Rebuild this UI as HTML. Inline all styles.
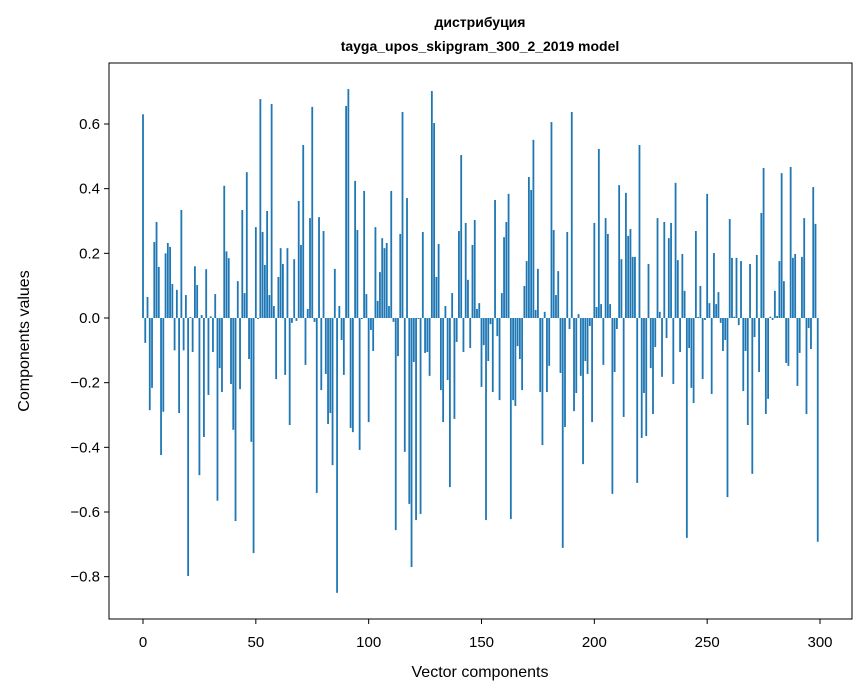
<!DOCTYPE html>
<html><head><meta charset="utf-8"><style>
html,body{margin:0;padding:0;background:#fff;}
svg{display:block;font-family:"Liberation Sans","DejaVu Sans",sans-serif;}
</style></head><body>
<svg id="chart" width="867" height="696" viewBox="0 0 867 696" xmlns="http://www.w3.org/2000/svg">
<rect x="0" y="0" width="867" height="696" fill="#fff"/>
<text x="480" y="27" text-anchor="middle" font-size="14" font-weight="bold">дистрибуция</text>
<text x="480" y="51" text-anchor="middle" font-size="14" font-weight="bold">tayga_upos_skipgram_300_2_2019 model</text>
<g id="bars"></g>
<g id="axes"></g>
<text x="480" y="677" text-anchor="middle" font-size="16">Vector components</text>
<text transform="translate(29,341) rotate(-90)" text-anchor="middle" font-size="16">Components values</text>
</svg>
<script>
const values = [
0.63,-0.077,0.065,-0.285,-0.216,0.235,0.297,0.158,-0.424,-0.29,
0.2,0.232,0.22,0.105,-0.1,0.087,-0.294,0.334,-0.1,0.071,
-0.798,0.003,-0.105,0.16,0.102,-0.486,0.009,-0.368,0.151,-0.238,
0.005,-0.105,0.074,-0.565,-0.155,-0.229,0.409,0.206,0.185,-0.204,
-0.346,-0.628,0.114,-0.22,0.334,0.077,0.451,-0.127,-0.383,-0.727,
0.281,-0.003,0.677,0.266,0.164,0.331,0.071,0.662,0.037,-0.189,
0.127,0.216,0.167,-0.176,0.216,-0.331,-0.015,0.182,-0.009,0.362,
0.226,0.535,-0.145,0.028,0.309,0.653,-0.012,-0.541,0.312,-0.223,
0.269,-0.173,-0.328,-0.294,-0.455,0.152,-0.85,0.037,-0.068,-0.176,
0.656,0.708,-0.34,-0.353,0.424,0.272,-0.408,-0.003,0.393,0.074,
-0.322,-0.037,-0.102,0.281,0.053,0.142,0.247,0.216,0.232,0.037,
0.393,-0.012,-0.656,-0.118,0.26,0.637,-0.414,0.371,-0.575,-0.77,
-0.136,-0.625,-0.003,-0.606,0.266,-0.108,-0.105,-0.179,0.702,0.603,
0.127,0.229,-0.223,-0.322,0.037,-0.192,-0.523,0.077,-0.312,-0.074,
0.269,0.504,-0.105,0.294,0.118,-0.093,0.226,0.303,0.028,0.046,
-0.213,-0.084,-0.625,-0.133,-0.019,-0.229,0.365,-0.056,-0.254,0.077,
0.25,0.297,0.384,-0.622,-0.254,-0.272,-0.087,-0.127,-0.223,0.099,
0.176,0.436,0.396,0.551,0.025,0.152,-0.229,-0.393,0.019,-0.229,
-0.148,0.606,0.272,0.071,0.145,-0.17,-0.711,-0.337,0.266,-0.034,
0.637,-0.288,-0.232,0.012,-0.179,-0.452,-0.133,-0.173,-0.025,-0.322,
0.294,0.034,0.523,0.043,-0.145,0.309,0.26,0.043,-0.544,-0.167,
-0.034,0.411,0.182,-0.306,0.387,0.254,0.275,0.189,0.189,-0.51,
0.535,-0.371,-0.232,-0.365,0.167,-0.155,-0.297,-0.09,0.309,0.019,
-0.182,0.297,-0.062,0.247,0.294,-0.204,0.418,0.179,-0.105,0.198,
0.084,-0.68,-0.093,-0.216,-0.263,0.269,0.003,0.099,-0.189,-0.006,
0.384,0.046,-0.235,0.201,0.043,0.08,-0.015,-0.102,-0.068,-0.554,
0.306,0.186,0.004,0.186,-0.022,0.176,-0.226,-0.102,-0.331,0.167,
-0.482,-0.059,0.195,-0.167,0.325,0.464,-0.297,-0.25,0.004,-0.006,
0.084,0.006,0.176,0.448,0.114,-0.139,-0.148,0.467,0.186,0.198,
-0.21,-0.108,0.189,0.309,-0.297,-0.031,-0.096,0.405,0.291,-0.692
];
const xTicks = [0,50,100,150,200,250,300];
const yTicks = [-0.8,-0.6,-0.4,-0.2,0.0,0.2,0.4,0.6];
const yTickLabels = ["\u22120.8","\u22120.6","\u22120.4","\u22120.2","0.0","0.2","0.4","0.6"];

const NS = "http://www.w3.org/2000/svg";
const L=109,R=852,T=63,B=619;
function xs(v){return 143 + (v-0)*(820-143)/300;}
function ys(v){return 318 - v*(318-124)/0.6;}
const barsG = document.getElementById('bars');
const bw = 0.8*(820-143)/300;
values.forEach((v,i)=>{
  const r=document.createElementNS(NS,'rect');
  const y0=ys(0), y1=ys(v);
  r.setAttribute('x', xs(i)-bw/2);
  r.setAttribute('y', Math.min(y0,y1));
  r.setAttribute('width', bw);
  r.setAttribute('height', Math.max(Math.abs(y1-y0),0.3));
  r.setAttribute('fill','#1f77b4');
  
  
  barsG.appendChild(r);
});
const ax = document.getElementById('axes');
const frame=document.createElementNS(NS,'rect');
frame.setAttribute('x',L);frame.setAttribute('y',T);
frame.setAttribute('width',R-L);frame.setAttribute('height',B-T);
frame.setAttribute('fill','none');frame.setAttribute('stroke','#000');frame.setAttribute('stroke-width','1');


ax.appendChild(frame);
xTicks.forEach(t=>{
  const x=xs(t);
  const l=document.createElementNS(NS,'line');
  l.setAttribute('x1',x);l.setAttribute('x2',x);l.setAttribute('y1',B);l.setAttribute('y2',B+5);
  l.setAttribute('stroke','#000');
  
  
  ax.appendChild(l);
  const tx=document.createElementNS(NS,'text');
  tx.setAttribute('x',x);tx.setAttribute('y',B+28);tx.setAttribute('text-anchor','middle');tx.setAttribute('font-size','15');
  tx.textContent=String(t);
  
  
  ax.appendChild(tx);
});
yTicks.forEach((t,i)=>{
  const y=ys(t);
  const l=document.createElementNS(NS,'line');
  l.setAttribute('x1',L-5);l.setAttribute('x2',L);l.setAttribute('y1',y);l.setAttribute('y2',y);
  l.setAttribute('stroke','#000');
  
  
  ax.appendChild(l);
  const tx=document.createElementNS(NS,'text');
  tx.setAttribute('x',L-9);tx.setAttribute('y',y+5);tx.setAttribute('text-anchor','end');tx.setAttribute('font-size','15');
  tx.textContent=yTickLabels[i];
  
  
  ax.appendChild(tx);
});
</script>
</body></html>
